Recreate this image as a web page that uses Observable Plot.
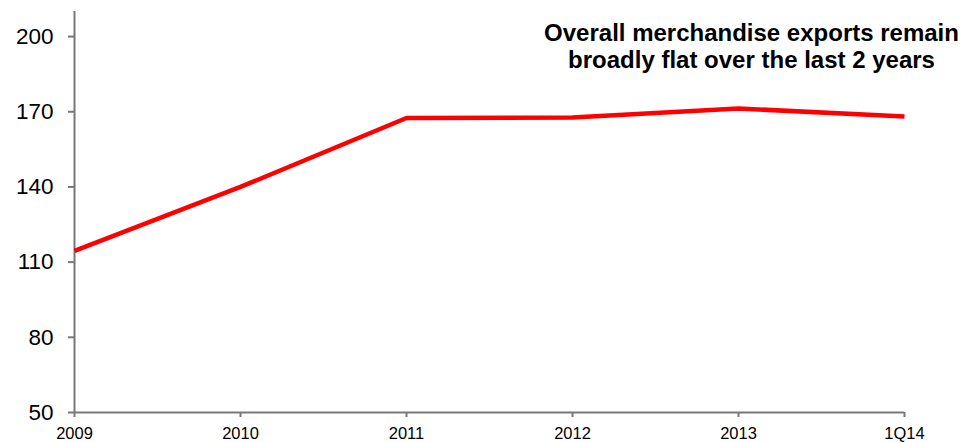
<!DOCTYPE html>
<html>
<head>
<meta charset="utf-8">
<script src="https://cdn.jsdelivr.net/npm/d3@7"></script>
<script src="https://cdn.jsdelivr.net/npm/@observablehq/plot@0.6"></script>
<style>
  html, body { margin: 0; padding: 0; background: #fff; }
  #chart { width: 964px; height: 442px; }
</style>
</head>
<body>
<div id="chart"></div>
<script>
const periods = ["2009", "2010", "2011", "2012", "2013", "1Q14"];
const exportsValues = [114.5, 140, 167.5, 167.7, 171.3, 168.1];
const yTicks = [50, 80, 110, 140, 170, 200];
const titleLines = ["Overall merchandise exports remain", "broadly flat over the last 2 years"];

const data = periods.map((p, i) => ({ period: p, value: exportsValues[i] }));
const axisColor = "#77787b";

const chart = Plot.plot({
  width: 964,
  height: 442,
  marginLeft: 74,
  marginRight: 60,
  marginTop: 11,
  marginBottom: 30,
  style: { fontFamily: "'Liberation Sans', Arial, sans-serif", background: "#fff", color: "#000" },
  x: { type: "point", domain: periods, padding: 0 },
  y: { domain: [50, 210] },
  marks: [
    Plot.ruleX([periods[0]], { stroke: axisColor, strokeWidth: 2 }),
    Plot.ruleY([yTicks[0]], { stroke: axisColor, strokeWidth: 2 }),
    Plot.axisY({ ticks: yTicks, tickSize: 6, tickFormat: () => "", stroke: axisColor, strokeWidth: 2, label: null }),
    Plot.axisX({ tickSize: 5, tickFormat: () => "", stroke: axisColor, strokeWidth: 2, label: null }),
    Plot.text(yTicks, {
      y: d => d,
      text: d => String(d),
      frameAnchor: "left",
      textAnchor: "end",
      dx: -21,
      fontSize: 22.5,
      fill: "#000"
    }),
    Plot.text(periods, {
      x: d => d,
      text: d => d,
      frameAnchor: "bottom",
      lineAnchor: "top",
      dy: 15,
      fontSize: 16.5,
      fill: "#000"
    }),
    Plot.line(data, { x: "period", y: "value", stroke: "#ff0000", strokeWidth: 4.5, strokeLinejoin: "miter", strokeLinecap: "butt" }),
    Plot.text([titleLines.join("\n")], {
      text: d => d,
      frameAnchor: "top-right",
      textAnchor: "middle",
      lineAnchor: "top",
      dx: -153,
      dy: 11,
      fontSize: 24,
      fontWeight: "bold",
      lineHeight: 1.1,
      fill: "#000"
    })
  ]
});
document.getElementById("chart").appendChild(chart);
</script>
</body>
</html>
